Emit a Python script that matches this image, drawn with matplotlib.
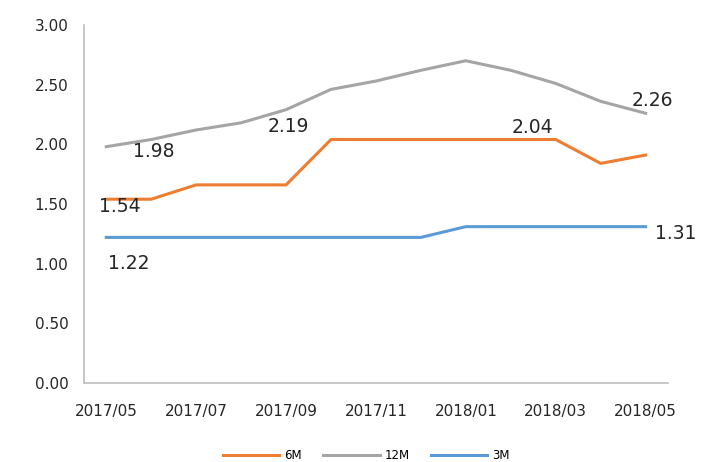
import matplotlib
matplotlib.use('Agg')
import matplotlib.pyplot as plt

plt.rcParams['font.family'] = ['DejaVu Sans']

months = ['2017/05', '2017/06', '2017/07', '2017/08', '2017/09', '2017/10', '2017/11',
          '2017/12', '2018/01', '2018/02', '2018/03', '2018/04', '2018/05']
rate_6m = [1.54, 1.54, 1.66, 1.66, 1.66, 2.04, 2.04, 2.04, 2.04, 2.04, 2.04, 1.84, 1.91]
rate_12m = [1.98, 2.04, 2.12, 2.18, 2.29, 2.46, 2.53, 2.62, 2.70, 2.62, 2.51, 2.36, 2.26]
rate_3m = [1.22, 1.22, 1.22, 1.22, 1.22, 1.22, 1.22, 1.22, 1.31, 1.31, 1.31, 1.31, 1.31]

# label text, x index, y value where the text sits
labels = [('1.98', 1.05, 1.94), ('1.54', 0.31, 1.48), ('1.22', 0.49, 1.00),
          ('2.19', 4.05, 2.15), ('2.04', 9.49, 2.14), ('2.26', 12.14, 2.37),
          ('1.31', 12.67, 1.25)]

fig = plt.figure(figsize=(7.04, 4.62), dpi=100)
ax = fig.add_axes([0.119, 0.171, 0.83, 0.775])

x = range(len(months))
ax.plot(x, rate_6m, color='#ED7D31', lw=2.2, label='6M')
ax.plot(x, rate_12m, color='#A5A5A5', lw=2.2, label='12M')
ax.plot(x, rate_3m, color='#5B9BD5', lw=2.2, label='3M')

for txt, lx, ly in labels:
    ax.text(lx, ly, txt, fontsize=13.5, ha='center', va='center', color='#262626')

ax.set_xlim(-0.5, 12.5)
ax.set_ylim(0, 3)
ax.set_yticks([i * 0.5 for i in range(7)])
ax.set_yticklabels(['%.2f' % (i * 0.5) for i in range(7)], fontsize=11)
ax.set_xticks(list(x)[::2])
ax.set_xticklabels(months[::2], fontsize=11)
ax.tick_params(length=0, colors='#262626')
ax.tick_params(axis='y', pad=11)
ax.tick_params(axis='x', pad=15)

for s in ['top', 'right']:
    ax.spines[s].set_visible(False)
for s in ['left', 'bottom']:
    ax.spines[s].set_color('#BFBFBF')
    ax.spines[s].set_linewidth(1.2)

fig.legend(loc='center', bbox_to_anchor=(0.52, 0.013), ncol=3, frameon=False,
           fontsize=8.5, handlelength=4.8, handletextpad=0.4, columnspacing=1.8)

fig.savefig('out.png', dpi=100)
